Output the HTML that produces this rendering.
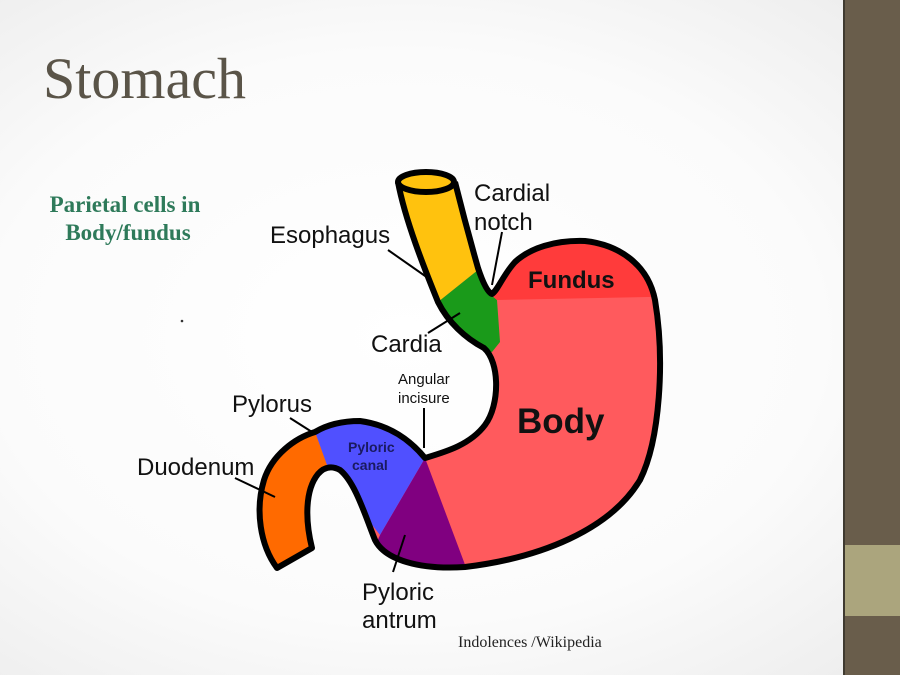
<!DOCTYPE html>
<html><head><meta charset="utf-8"><style>
html,body{margin:0;padding:0}
body{width:900px;height:675px;overflow:hidden;background:radial-gradient(ellipse at 45% 50%,#ffffff 0%,#fbfbfb 60%,#ececec 100%);position:relative;font-family:"Liberation Sans",sans-serif}
.side{position:absolute;left:843px;top:0;width:57px;height:675px;background:#695d4b;border-left:2px solid #3f3a30}
.band{position:absolute;left:845px;top:545px;width:55px;height:71px;background:#aba57d}
</style></head><body>
<div class="side"></div><div class="band"></div>
<svg width="900" height="675" style="position:absolute;left:0;top:0">
<defs><clipPath id="c"><path d="M398,182 C405,220 425,270 438,302 C448,322 465,338 484,348 C500,362 500,405 485,425 C470,445 445,452 425,458 C410,440 390,425 360,421 C340,421 325,426 315,432 C295,438 272,455 264,480 C255,510 260,545 277,568 L312,548 C305,520 305,490 318,474 C325,466 333,466 340,470 C355,482 365,515 375,540 C385,560 420,570 465,567 C540,558 610,530 640,480 C660,440 665,360 655,300 C648,265 620,245 585,241 C555,240 530,248 515,262 C503,275 498,290 492,294 C487,292 482,280 478,268 C470,240 462,210 455,182 Z"/></clipPath></defs>
<g clip-path="url(#c)">
<rect x="200" y="150" width="500" height="450" fill="#ff5a5d"/>
<polygon points="380,150 520,150 490,294 478,270 438,302 380,320" fill="#ffc20e"/>
<polygon points="438,302 478,270 490,294 497,300 500,342 492,352 470,350 420,320" fill="#1a9a1a"/>
<polygon points="497,300 700,296 700,150 480,150 490,294" fill="#ff3b3b"/>
<polygon points="425,458 467,570 360,580 380,535" fill="#800080"/>
<polygon points="315,432 328,468 380,535 425,458 430,400 300,400" fill="#5050ff"/>
<polygon points="315,432 328,468 320,600 200,600 200,400 310,400" fill="#ff6a00"/>
</g>
<path d="M398,182 C405,220 425,270 438,302 C448,322 465,338 484,348 C500,362 500,405 485,425 C470,445 445,452 425,458 C410,440 390,425 360,421 C340,421 325,426 315,432 C295,438 272,455 264,480 C255,510 260,545 277,568 L312,548 C305,520 305,490 318,474 C325,466 333,466 340,470 C355,482 365,515 375,540 C385,560 420,570 465,567 C540,558 610,530 640,480 C660,440 665,360 655,300 C648,265 620,245 585,241 C555,240 530,248 515,262 C503,275 498,290 492,294 C487,292 482,280 478,268 C470,240 462,210 455,182" fill="none" stroke="#000" stroke-width="6" stroke-linejoin="round"/>
<ellipse cx="426" cy="182" rx="28" ry="10" fill="#ffc20e" stroke="#000" stroke-width="6"/>
<g stroke="#000" stroke-width="2" fill="none">
<line x1="388" y1="250" x2="428" y2="278"/>
<line x1="502" y1="232" x2="492" y2="285"/>
<line x1="428" y1="333" x2="460" y2="313"/>
<line x1="424" y1="408" x2="424" y2="448"/>
<line x1="290" y1="418" x2="312" y2="432"/>
<line x1="235" y1="478" x2="275" y2="497"/>
<line x1="393" y1="572" x2="405" y2="535"/>
</g>
<g font-family="Liberation Sans,sans-serif" fill="#111">
<text x="474" y="201" font-size="24">Cardial</text>
<text x="474" y="230" font-size="24">notch</text>
<text x="270" y="243" font-size="24">Esophagus</text>
<text x="528" y="288" font-size="24" font-weight="bold">Fundus</text>
<text x="371" y="352" font-size="24">Cardia</text>
<text x="398" y="384" font-size="15">Angular</text>
<text x="398" y="403" font-size="15">incisure</text>
<text x="517" y="433" font-size="35" font-weight="bold">Body</text>
<text x="232" y="412" font-size="24">Pylorus</text>
<text x="137" y="475" font-size="24">Duodenum</text>
<text x="348" y="452" font-size="14" font-weight="bold" fill="#1a1a60">Pyloric</text>
<text x="352" y="470" font-size="14" font-weight="bold" fill="#1a1a60">canal</text>
<text x="362" y="600" font-size="24">Pyloric</text>
<text x="362" y="628" font-size="24">antrum</text>
</g>
<text x="458" y="647" font-family="Liberation Serif,serif" font-size="16" fill="#222">Indolences /Wikipedia</text>
<text x="43" y="98" font-family="Liberation Serif,serif" font-size="58" fill="#5a5448">Stomach</text>
<text x="125" y="212" text-anchor="middle" font-family="Liberation Serif,serif" font-size="23" font-weight="bold" fill="#2e7a5a">Parietal cells in</text>
<text x="128" y="240" text-anchor="middle" font-family="Liberation Serif,serif" font-size="23" font-weight="bold" fill="#2e7a5a">Body/fundus</text>
<circle cx="182" cy="321" r="1.3" fill="#333"/>
</svg>
</body></html>
